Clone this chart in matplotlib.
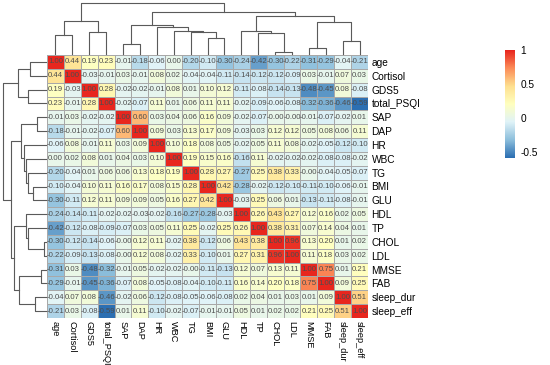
import numpy as np
import matplotlib
matplotlib.use("Agg")
import matplotlib.pyplot as plt
from matplotlib.colors import LinearSegmentedColormap

plt.rcParams['font.family'] = ['Liberation Sans', 'DejaVu Sans']
narrow = ['Liberation Sans Narrow', 'Liberation Sans', 'DejaVu Sans']

# Variables en el orden del heatmap (filas = columnas)
labels = ["age", "Cortisol", "GDS5", "total_PSQI", "SAP", "DAP", "HR", "WBC", "TG", "BMI",
          "GLU", "HDL", "TP", "CHOL", "LDL", "MMSE", "FAB", "sleep_dur", "sleep_eff"]

# Matriz de correlación
corr = [
    [1.00, 0.44, 0.19, 0.23, -0.01, -0.18, -0.06, 0.00, -0.20, -0.10, -0.30, -0.24, -0.42, -0.30, -0.22, -0.31, -0.29, -0.04, -0.21],
    [0.44, 1.00, -0.03, -0.01, 0.03, -0.01, 0.08, 0.02, -0.04, -0.04, -0.11, -0.14, -0.12, -0.12, -0.09, 0.03, -0.01, 0.07, 0.03],
    [0.19, -0.03, 1.00, 0.28, -0.02, -0.02, -0.01, 0.08, 0.01, 0.10, 0.12, -0.11, -0.08, -0.14, -0.13, -0.48, -0.45, 0.08, -0.08],
    [0.23, -0.01, 0.28, 1.00, -0.02, -0.07, 0.11, 0.01, 0.06, 0.11, 0.11, -0.02, -0.09, -0.06, -0.08, -0.32, -0.36, -0.46, -0.59],
    [-0.01, 0.03, -0.02, -0.02, 1.00, 0.60, 0.03, 0.04, 0.06, 0.16, 0.09, -0.02, -0.07, -0.0, -0.0, -0.01, -0.07, -0.02, 0.01],
    [-0.18, -0.01, -0.02, -0.07, 0.60, 1.00, 0.09, 0.03, 0.13, 0.17, 0.09, -0.03, 0.03, 0.12, 0.12, 0.05, 0.08, 0.06, 0.11],
    [-0.06, 0.08, -0.01, 0.11, 0.03, 0.09, 1.00, 0.10, 0.18, 0.08, 0.05, -0.02, 0.05, 0.11, 0.08, -0.02, -0.05, -0.12, -0.10],
    [0.00, 0.02, 0.08, 0.01, 0.04, 0.03, 0.10, 1.00, 0.19, 0.15, 0.16, -0.16, 0.11, -0.02, -0.02, -0.02, -0.08, -0.08, -0.02],
    [-0.20, -0.04, 0.01, 0.06, 0.06, 0.13, 0.18, 0.19, 1.00, 0.28, 0.27, -0.27, 0.25, 0.38, 0.33, -0.0, -0.04, -0.05, -0.07],
    [-0.10, -0.04, 0.10, 0.11, 0.16, 0.17, 0.08, 0.15, 0.28, 1.00, 0.42, -0.28, -0.02, -0.12, -0.10, -0.11, -0.10, -0.06, -0.01],
    [-0.30, -0.11, 0.12, 0.11, 0.09, 0.09, 0.05, 0.16, 0.27, 0.42, 1.00, -0.03, 0.25, 0.06, 0.01, -0.13, -0.11, -0.08, -0.01],
    [-0.24, -0.14, -0.11, -0.02, -0.02, -0.03, -0.02, -0.16, -0.27, -0.28, -0.03, 1.00, 0.26, 0.43, 0.27, 0.12, 0.16, 0.02, 0.05],
    [-0.42, -0.12, -0.08, -0.09, -0.07, 0.03, 0.05, 0.11, 0.25, -0.02, 0.25, 0.26, 1.00, 0.38, 0.31, 0.07, 0.14, 0.04, 0.01],
    [-0.30, -0.12, -0.14, -0.06, -0.0, 0.12, 0.11, -0.02, 0.38, -0.12, 0.06, 0.43, 0.38, 1.00, 0.96, 0.13, 0.20, 0.01, 0.02],
    [-0.22, -0.09, -0.13, -0.08, -0.0, 0.12, 0.08, -0.02, 0.33, -0.10, 0.01, 0.27, 0.31, 0.96, 1.00, 0.11, 0.18, 0.03, 0.02],
    [-0.31, 0.03, -0.48, -0.32, -0.01, 0.05, -0.02, -0.02, -0.0, -0.11, -0.13, 0.12, 0.07, 0.13, 0.11, 1.00, 0.75, 0.01, 0.21],
    [-0.29, -0.01, -0.45, -0.36, -0.07, 0.08, -0.05, -0.08, -0.04, -0.10, -0.11, 0.16, 0.14, 0.20, 0.18, 0.75, 1.00, 0.09, 0.25],
    [-0.04, 0.07, 0.08, -0.46, -0.02, 0.06, -0.12, -0.08, -0.05, -0.06, -0.08, 0.02, 0.04, 0.01, 0.03, 0.01, 0.09, 1.00, 0.51],
    [-0.21, 0.03, -0.08, -0.59, 0.01, 0.11, -0.10, -0.02, -0.07, -0.01, -0.01, 0.05, 0.01, 0.02, 0.02, 0.21, 0.25, 0.51, 1.00],
]

# Dendrograma (izq, der, altura relativa)
chol_ldl = ("CHOL", "LDL", 0.04)
tp_grp = ("TP", chol_ldl, 0.41)
hdl_grp = ("HDL", tp_grp, 0.46)
mmse_fab = ("MMSE", "FAB", 0.11)
sleep = ("sleep_dur", "sleep_eff", 0.26)
cog_sleep = (mmse_fab, sleep, 0.63)
b2 = (hdl_grp, cog_sleep, 0.74)
bmi_glu = ("BMI", "GLU", 0.31)
tg_grp = ("TG", bmi_glu, 0.43)
wbc_grp = ("WBC", tg_grp, 0.46)
hr_grp = ("HR", wbc_grp, 0.52)
sap_dap = ("SAP", "DAP", 0.20)
b1 = (sap_dap, hr_grp, 0.57)
b = (b1, b2, 0.815)
age_cort = ("age", "Cortisol", 0.37)
gds_psqi = ("GDS5", "total_PSQI", 0.43)
a = (age_cort, gds_psqi, 0.644)
tree = (a, b, 1.0)

data = np.array(corr)
n = len(labels)
pos = {lab: i + 0.5 for i, lab in enumerate(labels)}

palette = ["#2C6FB2", "#8DBFDC", "#E0F3F8", "#FFFFBF", "#FEE090", "#FC8D59", "#E8261E"]
cmap = LinearSegmentedColormap.from_list("rdylbu", palette, N=100)
vmin, vmax = data.min(), data.max()

W, H = 550, 365
fig = plt.figure(figsize=(W / 100, H / 100), dpi=100)

def frac(x0, y0, x1, y1):
    return [x0 / W, 1 - y1 / H, (x1 - x0) / W, (y1 - y0) / H]

ax = fig.add_axes(frac(47, 55, 368, 318))
ax.pcolormesh(np.arange(n + 1), np.arange(n + 1), data, cmap=cmap, vmin=vmin, vmax=vmax,
              edgecolors="#A8A8A8", linewidth=0.4)
ax.set_xlim(0, n)
ax.set_ylim(n, 0)
for i in range(n):
    for j in range(n):
        ax.text(j + 0.5, i + 0.5, f"{data[i, j]:.2f}", ha="center", va="center",
                fontsize=5.6, color="#4D4D4D", family=narrow)
ax.set_xticks(np.arange(n) + 0.5)
ax.set_xticklabels(labels, rotation=-90, fontsize=6.6, va="top", ha="center")
ax.set_yticks(np.arange(n) + 0.5)
ax.set_yticklabels(labels, fontsize=7.3)
ax.yaxis.tick_right()
ax.tick_params(length=0, pad=2.5)
for s in ax.spines.values():
    s.set_visible(False)

def draw(node, axis, top):
    if isinstance(node, str):
        return pos[node], 0.0
    l, r, h = node
    xl, hl = draw(l, axis, top)
    xr, hr = draw(r, axis, top)
    xs, hs = [xl, xl, xr, xr], [hl, h, h, hr]
    if top:
        axis.plot(xs, hs, color="#5A5A5A", lw=0.8, clip_on=False)
    else:
        axis.plot(hs, xs, color="#5A5A5A", lw=0.8, clip_on=False)
    return (xl + xr) / 2, h

axt = fig.add_axes(frac(47, 3, 368, 54))
draw(tree, axt, True)
axt.set_xlim(0, n)
axt.set_ylim(0, 1.0)
axt.axis("off")

axl = fig.add_axes(frac(3, 55, 46, 318))
draw(tree, axl, False)
axl.set_ylim(n, 0)
axl.set_xlim(1.0, 0)
axl.axis("off")

cax = fig.add_axes(frac(505, 50, 515, 158))
grad = np.linspace(vmin, vmax, 100).reshape(-1, 1)
cax.imshow(grad, cmap=cmap, vmin=vmin, vmax=vmax, aspect="auto", origin="lower",
           extent=[0, 1, vmin, vmax])
cax.set_xticks([])
cax.yaxis.tick_right()
cax.set_yticks([-0.5, 0, 0.5, 1])
cax.set_yticklabels(["-0.5", "0", "0.5", "1"], fontsize=7.3)
cax.tick_params(length=0, pad=4)
for s in cax.spines.values():
    s.set_visible(False)

fig.savefig("out.png", dpi=100)
